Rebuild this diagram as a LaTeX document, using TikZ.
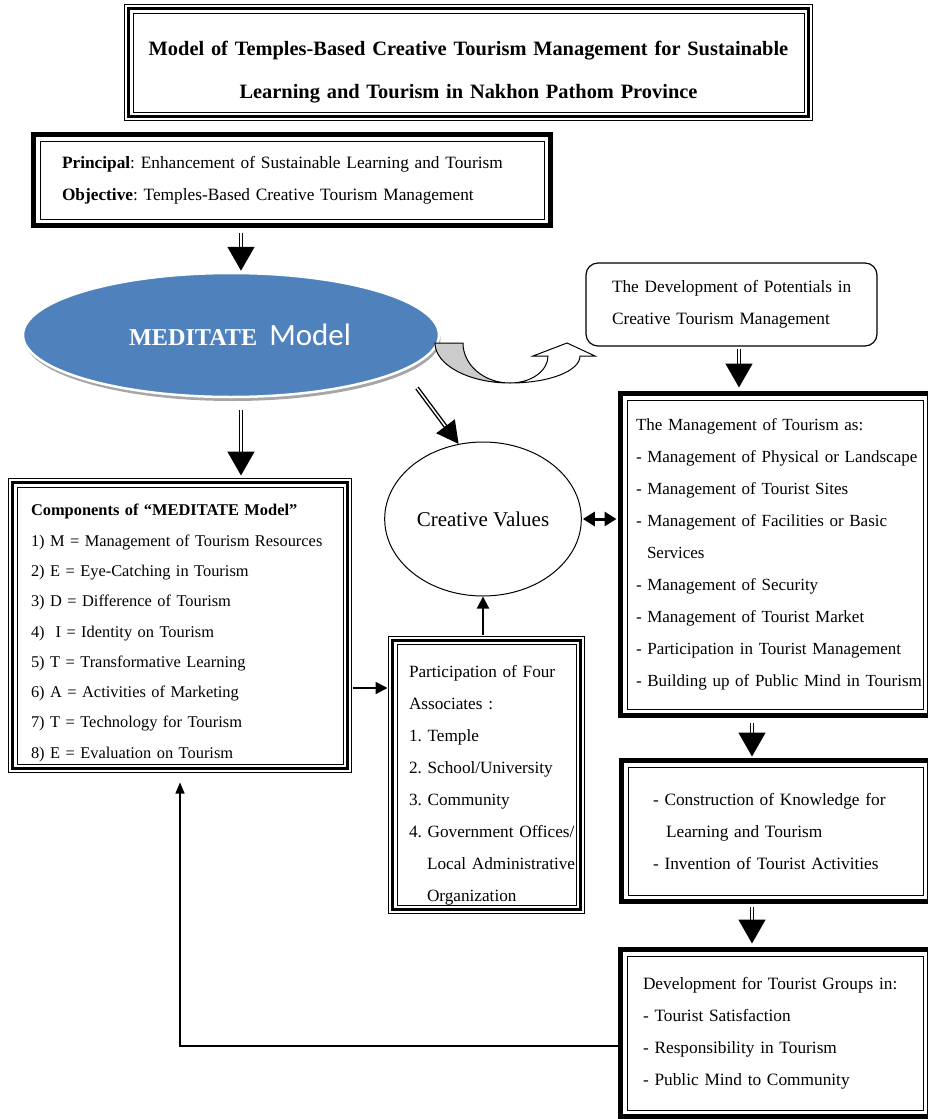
\documentclass[tikz,border=0pt]{standalone}
\usepackage{fontspec}
\setmainfont{Liberation Serif}
\newfontfamily\calibri{Carlito}
\usetikzlibrary{arrows.meta,shapes.geometric,shadows}

\definecolor{medblue}{RGB}{79,129,189}
\frenchspacing
\lefthyphenmin=64
\hyphenpenalty=10000
\exhyphenpenalty=10000

\begin{document}
\begin{tikzpicture}[x=1pt, y=-1pt,
  box/.style={draw, line width=1pt, align=left, inner ysep=0pt,
              font=\fontsize{17.3}{32}\selectfont},
  bigarr/.style={double, double distance=1.5pt, line width=1.6pt,
                 -{Triangle[length=24pt,width=27pt]}},
  arr/.style={line width=2pt, -{Triangle[length=12pt,width=12pt]}},
  dblarr/.style={line width=3pt,
                 {Triangle[length=12pt,width=14pt]}-{Triangle[length=12pt,width=14pt]}},
  fb/.style={line width=1.3pt, -{Triangle[length=11pt,width=9pt]}},
]
\useasboundingbox (0,0) rectangle (927,1119);

\node[box, align=center, text width=651pt, inner xsep=10pt, minimum height=99pt,
      font=\bfseries\fontsize{20.4}{43}\selectfont] (title) at (468.5,62.5)
  {\rule{0pt}{34pt}Model of Temples-Based Creative Tourism Management for Sustainable\\
   Learning and Tourism in Nakhon Pathom Province};
\node[box, text width=460pt, inner xsep=22pt, minimum height=78pt] (prin) at (292,180)
  {\textbf{Principal}: Enhancement~of~Sustainable~Learning~and~Tourism\\
   \textbf{Objective}: Temples-Based Creative Tourism Management};
\node[ellipse, fill=medblue, draw=white, line width=2.5pt, minimum width=416pt,
      minimum height=124pt, text=white,
      drop shadow={shadow xshift=1.5pt, shadow yshift=-4pt, fill=black!35, opacity=1}]
  (ell) at (231,335)
  {\hspace*{18pt}{\bfseries\fontsize{24.2}{28}\selectfont MEDITATE}\hspace{12pt}{\calibri\fontsize{31}{32}\selectfont Model}};
\node[box, rounded corners=12pt, line width=1.2pt, text width=239pt, inner xsep=26pt,
      minimum height=83pt] (pot) at (731.5,304.5)
  {The~Development~of~Potentials~in\\
   Creative~Tourism~Management};
\node[box, font=\fontsize{16.4}{30.3}\selectfont, text width=298pt, inner xsep=14pt,
      minimum height=277pt] (comp) at (180,625.5)
  {\rule{0pt}{26.6pt}\textbf{Components~of~“MEDITATE~Model”}\\
   1)~M~=~Management~of~Tourism~Resources\\
   2) E = Eye-Catching in Tourism\\
   3) D = Difference of Tourism\\
   4)~~I = Identity on Tourism\\
   5) T = Transformative Learning\\
   6) A = Activities of Marketing\\
   7) T = Technology for Tourism\\
   8) E = Evaluation on Tourism};
\node[ellipse, draw, line width=1pt, minimum width=166pt, minimum height=154pt,
      font=\fontsize{21}{24}\selectfont] (cv) at (483,519) {Creative Values};
\node[box, font=\fontsize{17.2}{32}\selectfont, text width=155pt, inner xsep=12pt,
      minimum height=252pt] (part) at (486.5,775)
  {\rule{0pt}{33pt}Participation~of~Four\\
   Associates :\\
   1. Temple\\
   2.~School/University\\
   3. Community\\
   4.~Government~Offices/\\
   \hspace*{18pt}Local~Administrative\\
   \hspace*{18pt}Organization};
\node[box, font=\fontsize{17}{32}\selectfont, text width=278pt, inner xsep=9pt,
      minimum height=309pt] (mgmt) at (775,554.5)
  {The~Management~of~Tourism~as:\\
   -~Management~of~Physical~or~Landscape\\
   -~Management~of~Tourist~Sites\\
   -~Management~of~Facilities~or~Basic\\
   \hspace*{11pt}Services\\
   -~Management~of~Security\\
   -~Management~of~Tourist~Market\\
   -~Participation~in~Tourist~Management\\
   -~Building~up~of~Public~Mind~in~Tourism};
\node[box, text width=245pt, inner xsep=25pt, minimum height=128pt] (cons) at (775.5,831)
  {-~Construction~of~Knowledge~for\\
   \hspace*{13pt}Learning~and~Tourism\\
   -~Invention~of~Tourist~Activities};
\node[box, text width=264pt, inner xsep=16pt, minimum height=154pt] (grp) at (775,1033)
  {Development~for~Tourist~Groups~in:\\
   -~Tourist~Satisfaction\\
   -~Responsibility~in~Tourism\\
   -~Public~Mind~to~Community};

% frames round the boxes
\foreach \n in {prin,mgmt,cons,grp}
  \draw[line width=5.5pt] ([shift={(-6pt,6pt)}]\n.north west) rectangle ([shift={(6pt,-6pt)}]\n.south east);
\foreach \n in {title,comp,part} {
  \draw[line width=3pt] ([shift={(-4pt,4pt)}]\n.north west) rectangle ([shift={(4pt,-4pt)}]\n.south east);
  \draw[line width=1.2pt] ([shift={(-8pt,8pt)}]\n.north west) rectangle ([shift={(8pt,-8pt)}]\n.south east);
}

% curved arrow
\draw[line width=1pt, fill=black!20] (435,343) .. controls (435,365) and (469,383) .. (510,383)
  .. controls (484,383) and (463,365) .. (463,343) -- cycle;
\draw[line width=1pt, fill=white] (510,383) .. controls (531,383) and (548,371) .. (548,356)
  -- (533,356) -- (567,343) -- (595,356) -- (580,356)
  .. controls (580,371) and (549,383) .. (510,383) -- cycle;

\coordinate (d0) at (417,388);

\draw[bigarr, shorten <=13pt, shorten >=1pt] ([xshift=10pt]ell.north |- prin.south) -- ([xshift=10pt]ell.north);
\draw[bigarr, shorten <=12pt, shorten >=11pt] ([xshift=10pt]ell.south) -- ([xshift=10pt]ell.south |- comp.north);
\draw[bigarr, line width=1.4pt, -{Triangle[length=22pt,width=23pt]}] (d0) -- (cv.108);
\draw[bigarr, shorten <=2pt, shorten >=12pt] ([xshift=7.5pt]pot.south) -- ([xshift=7.5pt]pot.south |- mgmt.north);
\draw[bigarr, shorten <=13pt, shorten >=10pt] ([xshift=-23pt]mgmt.south) -- ([xshift=-23pt]mgmt.south |- cons.north);
\draw[bigarr, shorten <=11pt, shorten >=12pt] ([xshift=-23.5pt]cons.south) -- ([xshift=-23.5pt]cons.south |- grp.north);
\draw[arr, shorten <=9pt, shorten >=9pt] ([yshift=-62.5pt]comp.east) -- ([yshift=-62.5pt]comp.east -| part.west);
\draw[arr, shorten <=9pt] (cv.south |- part.north) -- (cv.south);
\draw[dblarr, shorten <=1pt, shorten >=10pt] (cv.east) -- (cv.east -| mgmt.west);
\draw[fb, shorten <=9pt, shorten >=18pt] ([yshift=-13pt]grp.west) -| (comp.south);
\end{tikzpicture}
\end{document}
